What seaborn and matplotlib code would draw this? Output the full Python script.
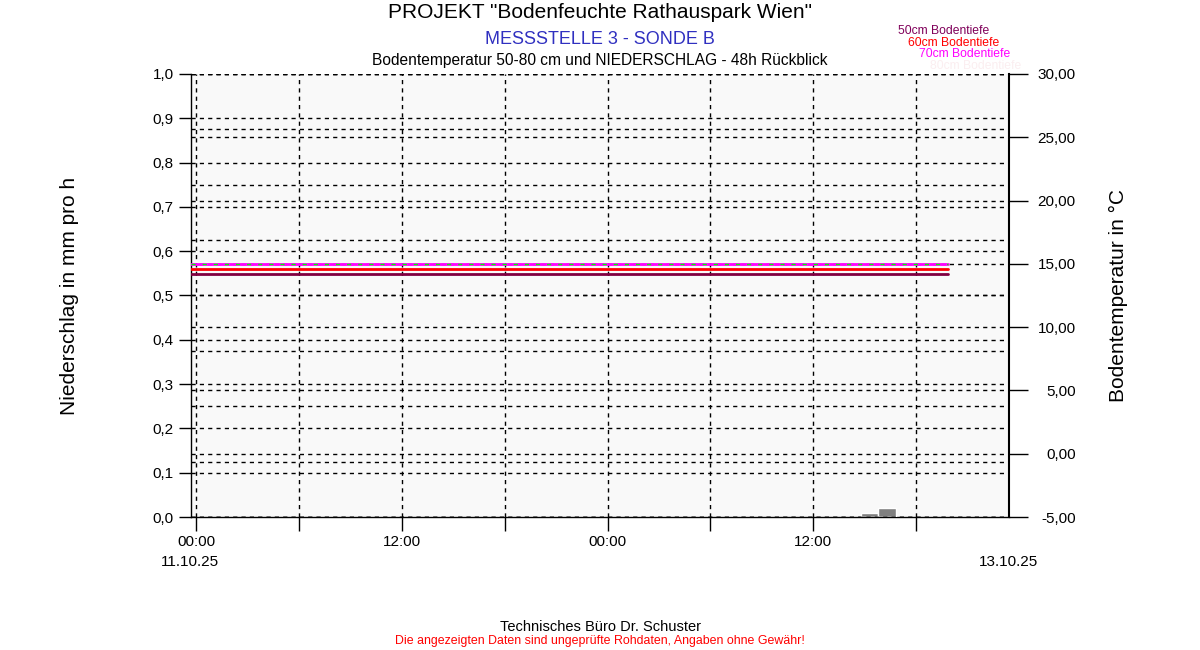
import numpy as np
import pandas as pd
import seaborn as sns
import matplotlib.pyplot as plt
from matplotlib.ticker import FuncFormatter

# time in hours since 11.10.25 00:00
temp_t = [-0.31, 43.85]
temp_50 = [14.2, 14.2]
temp_60 = [14.62, 14.62]
temp_70 = [14.98, 14.98]
temp_80 = [14.98, 14.98]

rain_t = [38.8, 39.8]
rain_mm = [0.01, 0.02]

xticks = [0, 12, 24, 36]
xlabels = ['00:00', '12:00', '00:00', '12:00']
start_date = '11.10.25'
end_date = '13.10.25'

depth_labels = ['50cm Bodentiefe', '60cm Bodentiefe', '70cm Bodentiefe', '80cm Bodentiefe']
depth_colors = ['#80005a', '#ff0000', '#ff00ff', '#fbeef0']

sns.set_style('white')
plt.rcParams['font.family'] = ['Liberation Sans', 'DejaVu Sans']
plt.rcParams['text.color'] = 'black'
plt.rcParams['axes.labelcolor'] = 'black'
plt.rcParams['xtick.color'] = 'black'
plt.rcParams['ytick.color'] = 'black'

fig = plt.figure(figsize=(12, 6.5), dpi=100)
ax = fig.add_axes([0.1592, 0.2046, 0.6816, 0.6816])
ax.set_facecolor('#f9f9f9')

grid_kw = dict(color='black', linestyle=(0, (3, 3)), linewidth=1)

# precipitation (left axis)
ax.bar(rain_t, rain_mm, width=1.0, align='edge', color='#808080', zorder=3)
ax.set_ylim(0, 1.0)
ax.set_xlim(-0.31, 47.42)
ax.set_yticks(np.arange(0, 1.01, 0.1))
ax.yaxis.set_major_formatter(FuncFormatter(lambda v, p: f'{v:.1f}'.replace('.', ',')))
ax.set_xticks(xticks)
ax.set_xticklabels(xlabels)
ax.set_xticks([6, 18, 30, 42], minor=True)
ax.tick_params(axis='x', which='both', direction='out', length=10, width=1,
               pad=3, labelsize=11, bottom=True)
ax.tick_params(axis='y', direction='out', length=9, width=1, pad=3.5, labelsize=11, left=True)
ax.grid(True, axis='y', **grid_kw)
ax.grid(True, axis='x', which='both', **grid_kw)
ax.set_axisbelow(True)
ax.set_ylabel('Niederschlag in mm pro h', fontsize=15)
ax.yaxis.set_label_coords(-0.1366, 0.5)
for s in ['top', 'right']:
    ax.spines[s].set_visible(False)
for s in ['left', 'bottom']:
    ax.spines[s].set_color('black')
    ax.spines[s].set_linewidth(1)
ax.text(-0.001, -0.085, start_date, transform=ax.transAxes, ha='center', va='top', fontsize=11)
ax.text(1.0, -0.085, end_date, transform=ax.transAxes, ha='center', va='top', fontsize=11)

# extra grid (hidden scale)
ax3 = ax.twinx()
ax3.set_ylim(0, 8)
ax3.set_yticks(range(9))
ax3.tick_params(axis='y', right=False, labelright=False, length=0)
ax3.grid(True, axis='y', **grid_kw)
ax3.patch.set_visible(False)
for s in ax3.spines.values():
    s.set_visible(False)

# soil temperature (right axis)
ax2 = ax.twinx()
ax2.patch.set_visible(False)
sns.lineplot(x=temp_t, y=temp_50, color='#800040', linewidth=2, ax=ax2)
sns.lineplot(x=temp_t, y=temp_60, color='#ff0000', linewidth=2, ax=ax2)
sns.lineplot(x=temp_t, y=temp_70, color='#ff00ff', linewidth=2, ax=ax2)
sns.lineplot(x=temp_t, y=temp_80, color='#00ff00', linewidth=1, linestyle=(0, (3, 5)), ax=ax2)
ax2.set_ylim(-5, 30)
ax2.set_yticks(np.arange(-5, 31, 5))
ax2.yaxis.set_major_formatter(FuncFormatter(lambda v, p: f'{v:.2f}'.replace('.', ',')))
ax2.tick_params(axis='y', right=True, direction='out', length=14, width=1, pad=34, labelsize=11)
for lbl in ax2.get_yticklabels():
    lbl.set_ha('right')
ax2.grid(True, axis='y', **grid_kw)
ax2.set_ylabel('Bodentemperatur in °C', fontsize=15)
ax2.yaxis.set_label_coords(1.1225, 0.5)
for s in ['top', 'left', 'bottom']:
    ax2.spines[s].set_visible(False)
ax2.spines['right'].set_color('black')
ax2.spines['right'].set_linewidth(1.5)

# titles
fig.text(0.5, 1 - 12 / 650, 'PROJEKT "Bodenfeuchte Rathauspark Wien"', ha='center', va='center', fontsize=15)
fig.text(0.5, 1 - 39 / 650, 'MESSSTELLE 3 - SONDE B', ha='center', va='center', fontsize=13, color='#3030c0')
fig.text(0.5, 1 - 60 / 650, 'Bodentemperatur 50-80 cm und NIEDERSCHLAG - 48h Rückblick',
         ha='center', va='center', fontsize=11.2)

# depth legend
for i, (lab, col) in enumerate(zip(depth_labels, depth_colors)):
    fig.text((898 + 10.5 * i) / 1200, 1 - (31 + 11.7 * i) / 650, lab, ha='left', va='center',
             fontsize=8.7, color=col)

# footer
fig.text(0.5, 1 - 627 / 650, 'Technisches Büro Dr. Schuster', ha='center', va='center', fontsize=10.5)
fig.text(0.5, 1 - 641 / 650, 'Die angezeigten Daten sind ungeprüfte Rohdaten, Angaben ohne Gewähr!',
         ha='center', va='center', fontsize=8.9, color='#ff0000')

fig.savefig('out.png', dpi=100, facecolor='white')
